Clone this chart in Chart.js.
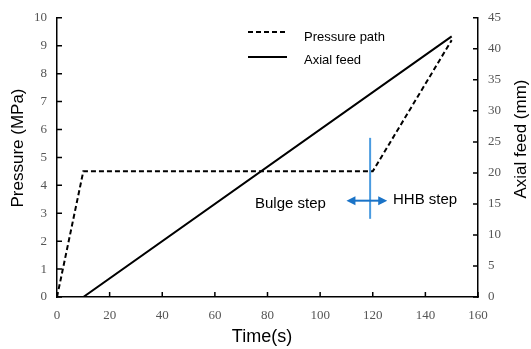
<!DOCTYPE html>
<html>
<head>
<meta charset="utf-8">
<script src="https://cdn.jsdelivr.net/npm/chart.js@4"></script>
<style>
  html, body { margin: 0; padding: 0; background: #fff; }
  #wrap { width: 531px; height: 349px; }
</style>
</head>
<body>
<div id="wrap"><canvas id="chart" width="531" height="349"></canvas></div>
<script>
// time (s) and values
const pressureTime = [0, 10, 120, 150];
const pressureValues = [0, 4.5, 4.5, 9.2];      // MPa, left axis
const feedTime = [0, 10, 150];
const feedValues = [0, 0, 42];                  // mm, right axis

const xTicks = [0, 20, 40, 60, 80, 100, 120, 140, 160];
const pressureTicks = [0, 1, 2, 3, 4, 5, 6, 7, 8, 9, 10];
const feedTicks = [0, 5, 10, 15, 20, 25, 30, 35, 40, 45];

// step marker: vertical line at t=119 and a two-way arrow
const stepLineT = 119;
const stepLineRange = [2.8, 5.7];
const stepArrow = [110, 125.5, 3.45];

const tickFont = { family: 'Liberation Serif', size: 13 };
const tickColor = '#555';

const toPoints = (xs, ys) => xs.map((x, i) => ({ x, y: ys[i] }));

const innerTicks = {
    id: 'innerTicks',
    afterDatasetsDraw(chart) {
        const { ctx, chartArea: a, scales } = chart;
        ctx.save();
        ctx.strokeStyle = '#000';
        ctx.lineWidth = 1.5;
        ctx.beginPath();
        scales.x.ticks.forEach(t => {
            const px = scales.x.getPixelForValue(t.value);
            ctx.moveTo(px, a.bottom);
            ctx.lineTo(px, a.bottom - 5);
        });
        scales.y.ticks.forEach(t => {
            const py = scales.y.getPixelForValue(t.value);
            ctx.moveTo(a.left, py);
            ctx.lineTo(a.left + 5, py);
        });
        scales.y1.ticks.forEach(t => {
            const py = scales.y1.getPixelForValue(t.value);
            ctx.moveTo(a.right, py);
            ctx.lineTo(a.right - 5, py);
        });
        ctx.stroke();
        ctx.restore();
    }
};

// axis titles, both side titles read bottom-to-top
const axisTitles = {
    id: 'axisTitles',
    afterDraw(chart) {
        const { ctx } = chart;
        ctx.save();
        ctx.fillStyle = '#000';
        ctx.textAlign = 'center';
        ctx.textBaseline = 'middle';
        ctx.font = '18px "Liberation Sans"';
        ctx.fillText('Time(s)', 262, 337);
        ctx.font = '17px "Liberation Sans"';
        ctx.translate(18, 148);
        ctx.rotate(-Math.PI / 2);
        ctx.fillText('Pressure (MPa)', 0, 0);
        ctx.setTransform(1, 0, 0, 1, 0, 0);
        ctx.translate(521, 139);
        ctx.rotate(-Math.PI / 2);
        ctx.fillText('Axial feed (mm)', 0, 0);
        ctx.restore();
    }
};

const notes = {
    id: 'notes',
    afterDatasetsDraw(chart) {
        const { ctx, scales } = chart;
        const x = scales.x, y = scales.y;
        ctx.save();

        // vertical step line
        ctx.strokeStyle = '#4a9be0';
        ctx.lineWidth = 2;
        ctx.beginPath();
        ctx.moveTo(x.getPixelForValue(stepLineT), y.getPixelForValue(stepLineRange[0]));
        ctx.lineTo(x.getPixelForValue(stepLineT), y.getPixelForValue(stepLineRange[1]));
        ctx.stroke();

        // double arrow
        const x0 = x.getPixelForValue(stepArrow[0]);
        const x1 = x.getPixelForValue(stepArrow[1]);
        const ay = y.getPixelForValue(stepArrow[2]);
        ctx.strokeStyle = '#1a73c7';
        ctx.fillStyle = '#1a73c7';
        ctx.beginPath();
        ctx.moveTo(x0 + 6, ay);
        ctx.lineTo(x1 - 6, ay);
        ctx.stroke();
        ctx.beginPath();
        ctx.moveTo(x0, ay); ctx.lineTo(x0 + 9, ay - 4.5); ctx.lineTo(x0 + 9, ay + 4.5); ctx.closePath();
        ctx.moveTo(x1, ay); ctx.lineTo(x1 - 9, ay - 4.5); ctx.lineTo(x1 - 9, ay + 4.5); ctx.closePath();
        ctx.fill();

        // labels
        ctx.fillStyle = '#000';
        ctx.font = '15px "Liberation Sans"';
        ctx.textBaseline = 'middle';
        ctx.textAlign = 'left';
        ctx.fillText('Bulge step', 255, 204);
        ctx.fillText('HHB step', 393, 200);

        // legend
        ctx.strokeStyle = '#000';
        ctx.lineWidth = 2;
        ctx.setLineDash([5, 3]);
        ctx.beginPath();
        ctx.moveTo(248, 32); ctx.lineTo(287, 32);
        ctx.stroke();
        ctx.setLineDash([]);
        ctx.beginPath();
        ctx.moveTo(248, 57); ctx.lineTo(287, 57);
        ctx.stroke();
        ctx.font = '13px "Liberation Sans"';
        ctx.fillText('Pressure path', 304, 37);
        ctx.fillText('Axial feed', 304, 60);
        ctx.restore();
    }
};

new Chart(document.getElementById('chart'), {
    type: 'line',
    data: {
        datasets: [
            {
                label: 'Pressure path',
                data: toPoints(pressureTime, pressureValues),
                yAxisID: 'y',
                borderColor: '#000',
                borderWidth: 2,
                borderDash: [5, 3],
                pointRadius: 0,
                tension: 0,
            },
            {
                label: 'Axial feed',
                data: toPoints(feedTime, feedValues),
                yAxisID: 'y1',
                borderColor: '#000',
                borderWidth: 2,
                pointRadius: 0,
                tension: 0,
            },
        ],
    },
    options: {
        responsive: false,
        animation: false,
        layout: { padding: { top: 16, right: 0, left: 0, bottom: 0 } },
        plugins: { legend: { display: false }, tooltip: { enabled: false } },
        scales: {
            x: {
                type: 'linear',
                min: 0, max: 160,
                afterBuildTicks: s => { s.ticks = xTicks.map(v => ({ value: v })); },
                afterFit: s => { s.height = 52; },
                grid: { display: false, drawTicks: false },
                border: { color: '#000', width: 1.5 },
                ticks: { font: tickFont, color: tickColor, padding: 11, maxRotation: 0 },
            },
            y: {
                position: 'left',
                min: 0, max: 10,
                afterBuildTicks: s => { s.ticks = pressureTicks.map(v => ({ value: v })); },
                afterFit: s => { s.width = 57; },
                grid: { display: false, drawTicks: false },
                border: { color: '#000', width: 1.5 },
                ticks: { font: tickFont, color: tickColor, padding: 10 },
            },
            y1: {
                position: 'right',
                min: 0, max: 45,
                afterBuildTicks: s => { s.ticks = feedTicks.map(v => ({ value: v })); },
                afterFit: s => { s.width = 53; },
                grid: { display: false, drawTicks: false },
                border: { color: '#000', width: 1.5 },
                ticks: { font: tickFont, color: tickColor, padding: 10 },
            },
        },
    },
    plugins: [innerTicks, notes, axisTitles],
});
</script>
</body>
</html>
